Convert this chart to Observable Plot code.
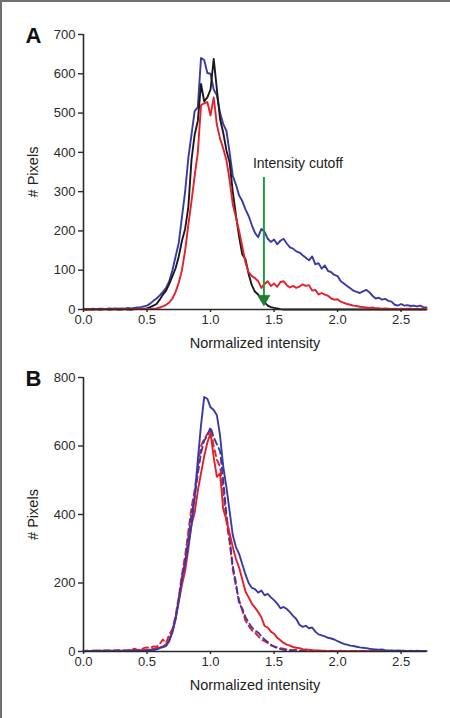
<!DOCTYPE html>
<html>
<head>
<meta charset="utf-8">
<script src="https://cdn.jsdelivr.net/npm/d3@7"></script>
<script src="https://cdn.jsdelivr.net/npm/@observablehq/plot@0.6"></script>
<style>
  html, body { margin: 0; padding: 0; background: #fff; }
  #page { position: relative; width: 450px; height: 718px; overflow: hidden; background: #fff; }
  #page svg { position: absolute; left: 0; }
  .edge { position: absolute; background: #707070; z-index: 5; }
</style>
</head>
<body>
<div id="page"></div>
<script>
// ---------- DATA ----------
// Bin centres (normalized intensity), shared by every curve
const bins = [
  0.000,0.025,0.050,0.075,0.100,0.125,0.150,0.175,0.200,0.225,
  0.250,0.275,0.300,0.325,0.350,0.375,0.400,0.425,0.450,0.475,
  0.500,0.525,0.550,0.575,0.600,0.625,0.650,0.675,0.700,0.725,
  0.750,0.775,0.800,0.825,0.850,0.875,0.900,0.925,0.950,0.975,
  1.000,1.025,1.050,1.075,1.100,1.125,1.150,1.175,1.200,1.225,
  1.250,1.275,1.300,1.325,1.350,1.375,1.400,1.425,1.450,1.475,
  1.500,1.525,1.550,1.575,1.600,1.625,1.650,1.675,1.700,1.725,
  1.750,1.775,1.800,1.825,1.850,1.875,1.900,1.925,1.950,1.975,
  2.000,2.025,2.050,2.075,2.100,2.125,2.150,2.175,2.200,2.225,
  2.250,2.275,2.300,2.325,2.350,2.375,2.400,2.425,2.450,2.475,
  2.500,2.525,2.550,2.575,2.600,2.625,2.650,2.675,2.700
];

// Panel A
const aBlue = [
  0,1,1,2,1,2,2,1,3,2,
  3,2,3,2,4,3,4,5,6,8,
  10,15,22,28,36,45,55,72,100,135,
  170,235,300,385,445,505,515,640,635,602,
  600,560,545,500,472,455,400,340,318,290,
  276,255,238,215,195,184,205,198,180,172,
  178,166,175,180,168,158,155,148,145,138,
  132,125,135,115,118,104,112,98,95,88,
  85,72,66,60,54,48,45,42,46,50,
  44,35,28,30,25,27,22,20,12,10,
  14,10,11,9,10,8,10,6,5
];
const aBlack = [
  0,0,0,0,1,0,0,1,0,0,
  1,0,0,1,0,0,1,1,1,2,
  3,6,10,14,25,38,48,65,85,105,
  135,175,205,260,380,445,480,574,530,540,
  560,638,560,485,450,405,375,300,240,185,
  140,128,90,62,45,38,25,18,10,6,
  4,3,1,0,0,0,0,0,0,0,
  0,0,0,0,0,0,0,0,0,0,
  0,0,0,0,0,0,0,0,0,0,
  0,0,0,0,0,0,0,0,0,0,
  0,0,0,0,0,0,0,0,0
];
const aRed = [
  0,0,1,0,1,0,1,1,0,1,
  1,0,1,1,1,0,1,1,2,1,
  2,1,2,3,5,8,12,18,28,45,
  68,100,150,215,275,340,400,520,525,528,
  494,540,470,435,410,380,330,268,235,200,
  160,120,95,85,80,72,55,65,72,60,
  66,58,70,72,62,56,60,55,58,64,
  60,62,48,50,38,42,38,35,28,25,
  26,20,17,14,12,10,9,7,6,5,
  4,5,3,3,2,3,2,1,2,1,
  2,1,2,2,1,2,1,2,1
];
const cutoff = 1.42;          // intensity cutoff (panel A)
const cutoffTop = 336;        // top of cutoff marker, # pixels
const cutoffHead = 27;        // centre of arrow head, # pixels
const cutoffLabel = "Intensity cutoff";

// Panel B
const bBlue = [
  0,1,1,2,1,2,1,2,2,1,
  2,2,1,2,2,2,2,2,2,2,
  3,4,5,7,10,13,16,30,60,95,
  150,215,260,310,370,450,560,660,743,738,
  713,705,690,630,540,480,410,340,305,285,
  255,225,200,186,182,172,178,164,168,158,
  150,140,126,130,124,115,104,95,78,72,
  75,68,70,58,50,47,44,40,38,35,
  30,26,22,20,17,16,14,12,11,10,
  8,7,6,5,6,4,3,3,2,3,
  2,2,1,2,1,2,1,1,1
];
const bRed = [
  1,2,1,2,1,2,2,1,3,2,
  2,3,2,3,2,4,3,3,4,4,
  5,5,8,10,12,15,20,35,55,95,
  145,195,235,300,370,405,470,520,570,610,
  638,567,510,520,415,385,345,305,270,245,
  210,175,158,140,128,115,100,75,70,58,
  52,40,33,25,20,17,13,11,10,7,
  6,5,4,3,3,2,2,1,2,1,
  1,2,1,1,1,1,1,1,1,1,
  1,1,1,1,1,1,1,1,1,1,
  1,1,1,1,1,1,1,1,1
];
const bBlueDashed = [
  1,1,2,1,2,1,2,2,1,2,
  2,2,3,2,2,2,3,2,3,3,
  3,3,4,6,10,13,20,32,60,100,
  150,205,260,330,400,450,519,580,616,630,
  655,625,605,585,500,400,330,250,200,140,
  125,100,85,70,62,55,45,35,28,20,
  14,10,7,5,4,3,2,2,1,2,
  1,1,1,1,1,1,1,1,1,1,
  1,1,1,1,1,1,1,1,1,1,
  1,1,1,1,1,1,1,1,1,1,
  1,1,1,1,1,1,1,1,1
];
const bRedDashed = [
  1,2,1,2,3,2,2,3,2,3,
  2,3,3,2,3,5,8,5,4,10,
  12,10,15,14,22,35,25,50,65,105,
  160,225,280,350,420,470,540,600,620,635,
  648,600,560,540,470,380,320,240,190,150,
  120,90,75,62,55,45,35,30,25,18,
  15,12,10,8,6,5,4,5,3,4,
  3,2,2,1,2,1,1,2,1,1,
  1,1,1,1,1,1,1,1,1,1,
  1,1,1,1,1,1,1,1,1,1,
  1,1,1,1,1,1,1,1,1
];

// Tick labels
const xTicks = [0, 0.5, 1.0, 1.5, 2.0, 2.5];
const yTicksA = [0, 100, 200, 300, 400, 500, 600, 700];
const yTicksB = [0, 200, 400, 600, 800];
const xTitle = "Normalized intensity";
const yTitle = "# Pixels";

// ---------- STYLE ----------
const BLUE = "#3a3aa6", RED = "#e3202b", BLACK = "#1a1a1a", GREEN = "#1f9a3a", AXIS = "#2a2a2a";
const FONT = "'Liberation Sans', Arial, Helvetica, sans-serif";

const rows = (vals) => bins.map((x, i) => ({x, y: vals[i]}));

function panel({letter, yMax, yTicks, top, height, marginTop, marginBottom, series, extra = []}) {
  const svg = Plot.plot({
    width: 450, height,
    marginLeft: 83, marginRight: 24, marginTop, marginBottom,
    x: {domain: [0, 2.7]},
    y: {domain: [0, yMax]},
    style: {fontFamily: FONT, fontSize: "13px", color: AXIS, background: "transparent", overflow: "visible"},
    marks: [
      Plot.axisY({ticks: yTicks, tickSize: 5, tickPadding: 3, label: null, strokeWidth: 1.4}),
      Plot.axisX({ticks: xTicks, tickFormat: d3.format(".1f"), tickSize: 3, tickPadding: 2, label: null, strokeWidth: 1.4}),
      ...series.map(s => Plot.line(rows(s.values), {
        x: "x", y: "y", stroke: s.color, strokeWidth: 1.9,
        strokeDasharray: s.dash || null, curve: "linear"
      })),
      Plot.ruleX([0], {stroke: AXIS, strokeWidth: 1.6}),
      Plot.ruleY([0], {stroke: AXIS, strokeWidth: 1.6}),
      ...extra,
      Plot.text([yTitle], {frameAnchor: "left", dx: -50, rotate: -90, fontSize: 14.5, fill: "#222", textAnchor: "middle", lineAnchor: "middle"}),
      Plot.text([xTitle], {frameAnchor: "bottom", dy: 34, fontSize: 14.5, fill: "#222", textAnchor: "middle", lineAnchor: "middle"}),
      Plot.text([letter], {frameAnchor: "top-left", dx: -50, dy: 1, fontSize: 22, fontWeight: "bold", fill: "#111", textAnchor: "middle", lineAnchor: "middle"})
    ]
  });
  svg.style.top = top + "px";
  return svg;
}

const page = document.getElementById("page");

page.appendChild(panel({
  letter: "A", yMax: 700, yTicks: yTicksA, top: 0, height: 360, marginTop: 34, marginBottom: 51,
  series: [
    {values: aBlue, color: BLUE},
    {values: aBlack, color: BLACK},
    {values: aRed, color: RED}
  ],
  extra: [
    Plot.ruleX([{x: cutoff, y1: cutoffHead, y2: cutoffTop}], {
      x: "x", y1: "y1", y2: "y2", stroke: GREEN, strokeWidth: 2
    }),
    Plot.dot([{x: cutoff, y: cutoffHead}], {
      x: "x", y: "y", symbol: "triangle", rotate: 180, r: 4.6, fill: "#1d7d30", stroke: "#1d7d30", strokeWidth: 0.5
    }),
    Plot.text([{x: cutoff, y: cutoffTop, t: cutoffLabel}], {
      x: "x", y: "y", text: "t", dx: -11, dy: -14, textAnchor: "start", lineAnchor: "middle",
      fontSize: 14, fill: "#222"
    })
  ]
}));

page.appendChild(panel({
  letter: "B", yMax: 800, yTicks: yTicksB, top: 360, height: 358, marginTop: 17, marginBottom: 67,
  series: [
    {values: bRedDashed, color: RED, dash: "6,4"},
    {values: bBlueDashed, color: BLUE, dash: "6,4"},
    {values: bRed, color: RED},
    {values: bBlue, color: BLUE}
  ]
}));

// grey frame edges (top and left) as in the reference
const topEdge = document.createElement("div");
topEdge.className = "edge";
Object.assign(topEdge.style, {left: "0px", top: "0px", width: "450px", height: "2px"});
const leftEdge = document.createElement("div");
leftEdge.className = "edge";
Object.assign(leftEdge.style, {left: "0px", top: "0px", width: "2px", height: "718px"});
page.appendChild(topEdge);
page.appendChild(leftEdge);
</script>
</body>
</html>
